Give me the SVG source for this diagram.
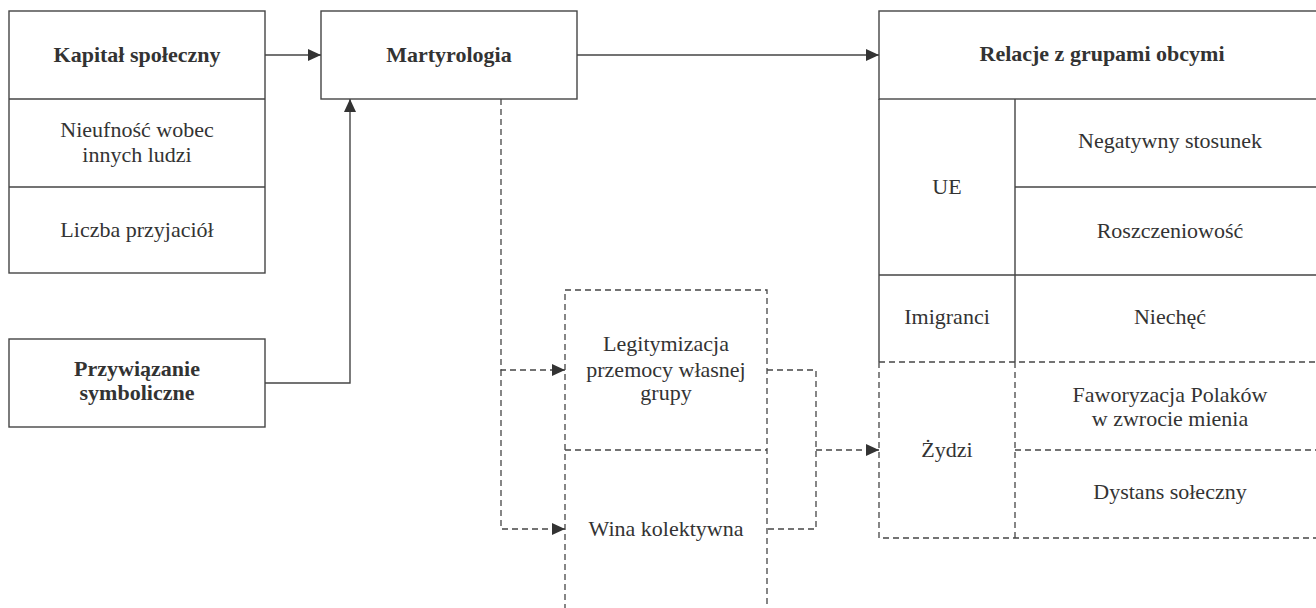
<svg xmlns="http://www.w3.org/2000/svg" width="1316" height="608" viewBox="0 0 1316 608">
<defs>
<style>
.b{fill:#fff;stroke:#454545;stroke-width:1.4}
.s{fill:none;stroke:#454545;stroke-width:1.4}
.d{fill:none;stroke:#454545;stroke-width:1.3;stroke-dasharray:6,4}
text{font-family:"Liberation Serif","Times New Roman",Tinos,"Nimbus Roman","Noto Serif","DejaVu Serif",serif;font-size:22px;fill:#333;text-anchor:middle}
.t{font-weight:bold}
</style>
<marker id="ah" markerWidth="13" markerHeight="12" refX="13" refY="6" orient="auto" markerUnits="userSpaceOnUse">
<path d="M0,0 L13,6 L0,12 Z" fill="#333"/>
</marker>
</defs>
<g id="kapital">
<rect class="b" x="9" y="11" width="256" height="262"/>
<line class="s" x1="9" y1="99" x2="265" y2="99"/>
<line class="s" x1="9" y1="187" x2="265" y2="187"/>
<text class="t" x="137" y="62">Kapitał społeczny</text>
<text x="137" y="137">Nieufność wobec</text>
<text x="137" y="162">innych ludzi</text>
<text x="137" y="237">Liczba przyjaciół</text>
</g>
<g id="martyrologia">
<rect class="b" x="321" y="11" width="256" height="88"/>
<text class="t" x="449" y="62">Martyrologia</text>
</g>
<g id="przywiazanie">
<rect class="b" x="9" y="339" width="256" height="88"/>
<text class="t" x="137" y="376">Przywiązanie</text>
<text class="t" x="137" y="400">symboliczne</text>
</g>
<g id="legitymizacja">
<path class="d" d="M565,620 V290 H767 V620"/>
<line class="d" x1="565" y1="450" x2="767" y2="450"/>
<text x="666" y="351">Legitymizacja</text>
<text x="666" y="377">przemocy własnej</text>
<text x="666" y="400">grupy</text>
<text x="666" y="536">Wina kolektywna</text>
</g>
<g id="relacje">
<rect class="b" x="879" y="11" width="446" height="88"/>
<text class="t" x="1102" y="61">Relacje z grupami obcymi</text>
<path class="s" d="M879,99 V362 M1015,99 V362 M1015,187 H1325 M879,275 H1325"/>
<path class="d" d="M879,362 V538 H1325 M1015,362 V538 M879,362 H1325 M1015,450 H1325"/>
<text x="947" y="194">UE</text>
<text x="1170" y="148">Negatywny stosunek</text>
<text x="1170" y="238">Roszczeniowość</text>
<text x="947" y="324">Imigranci</text>
<text x="1170" y="324">Niechęć</text>
<text x="947" y="457">Żydzi</text>
<text x="1170" y="402">Faworyzacja Polaków</text>
<text x="1170" y="426">w zwrocie mienia</text>
<text x="1170" y="499">Dystans sołeczny</text>
</g>
<g id="connectors">
<line class="s" x1="265" y1="55" x2="321" y2="55" marker-end="url(#ah)"/>
<line class="s" x1="577" y1="55" x2="879" y2="55" marker-end="url(#ah)"/>
<path class="s" d="M265,383 H350 V99" marker-end="url(#ah)"/>
<path class="d" d="M501,99 V370 H565" marker-end="url(#ah)"/>
<path class="d" d="M501,370 V529 H565" marker-end="url(#ah)"/>
<path class="d" d="M767,370 H816 V529 H767"/>
<path class="d" d="M816,450 H879" marker-end="url(#ah)"/>
</g>
</svg>
